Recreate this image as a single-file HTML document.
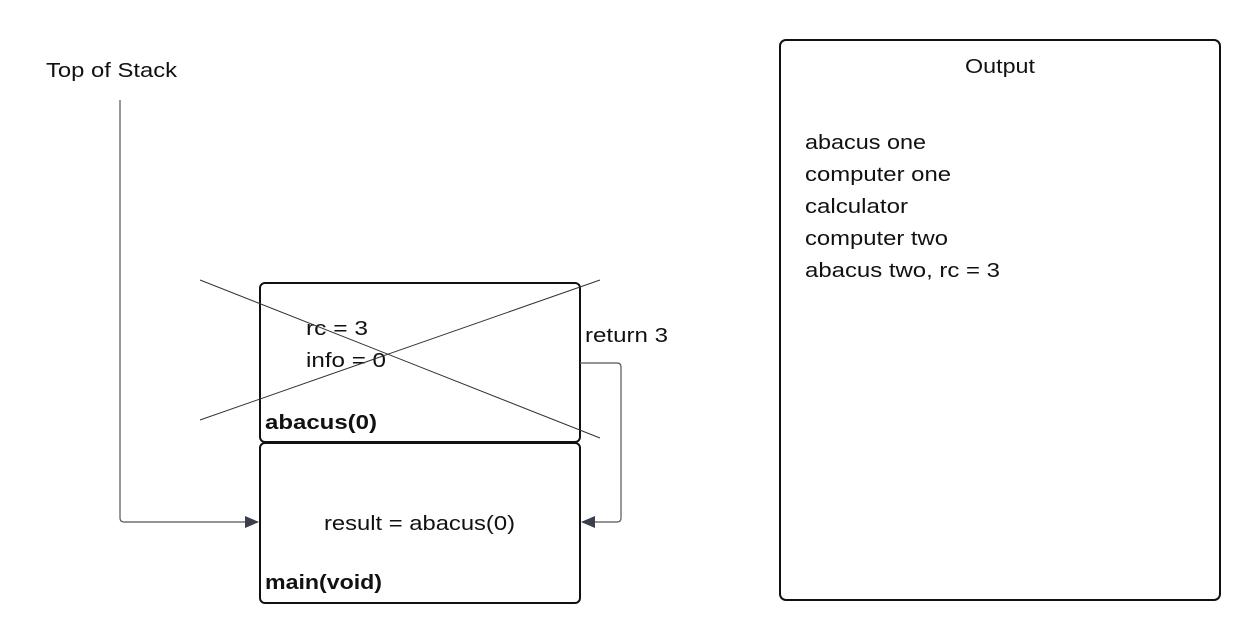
<!DOCTYPE html>
<html><head><style>
body{margin:0;background:#fff;width:1260px;height:643px;overflow:hidden;font-family:"Liberation Sans",sans-serif;}
svg{position:absolute;left:0;top:0}
text{font-family:"Liberation Sans",sans-serif;font-size:20px;fill:#111}
.b{font-weight:bold}
</style></head><body>
<svg width="1260" height="643">
<defs><marker id="a" markerWidth="14" markerHeight="14" refX="13" refY="7" orient="auto" markerUnits="userSpaceOnUse"><path d="M0,1 L14,7 L0,13 Z" fill="#3a3f4b"/></marker></defs>
<text x="46" y="77" textLength="131" lengthAdjust="spacingAndGlyphs">Top of Stack</text>
<path d="M120,100 V518 Q120,522 124,522 H258" fill="none" stroke="#555" stroke-width="1.2" marker-end="url(#a)"/>
<rect x="260" y="283" width="320" height="159" rx="5" fill="none" stroke="#111" stroke-width="2"/>
<rect x="260" y="443" width="320" height="160" rx="5" fill="none" stroke="#111" stroke-width="2"/>
<text x="306" y="335" textLength="62" lengthAdjust="spacingAndGlyphs">rc = 3</text>
<text x="306" y="367" textLength="80" lengthAdjust="spacingAndGlyphs">info = 0</text>
<text x="265" y="429" class="b" textLength="112" lengthAdjust="spacingAndGlyphs">abacus(0)</text>
<text x="324" y="530" textLength="191" lengthAdjust="spacingAndGlyphs">result = abacus(0)</text>
<text x="265" y="589" class="b" textLength="117" lengthAdjust="spacingAndGlyphs">main(void)</text>
<line x1="200" y1="280" x2="600" y2="438" stroke="#333" stroke-width="1"/>
<line x1="200" y1="420" x2="600" y2="280" stroke="#333" stroke-width="1"/>
<text x="585" y="342" textLength="83" lengthAdjust="spacingAndGlyphs">return 3</text>
<path d="M580,363 H617 Q621,363 621,367 V518 Q621,522 617,522 H582" fill="none" stroke="#555" stroke-width="1.2" marker-end="url(#a)"/>
<rect x="780" y="40" width="440" height="560" rx="6" fill="none" stroke="#111" stroke-width="2"/>
<text x="965" y="73" textLength="70" lengthAdjust="spacingAndGlyphs">Output</text>
<text x="805" y="149" textLength="121" lengthAdjust="spacingAndGlyphs">abacus one</text>
<text x="805" y="181" textLength="146" lengthAdjust="spacingAndGlyphs">computer one</text>
<text x="805" y="213" textLength="103" lengthAdjust="spacingAndGlyphs">calculator</text>
<text x="805" y="245" textLength="143" lengthAdjust="spacingAndGlyphs">computer two</text>
<text x="805" y="277" textLength="195" lengthAdjust="spacingAndGlyphs">abacus two, rc = 3</text>
</svg>
</body></html>
